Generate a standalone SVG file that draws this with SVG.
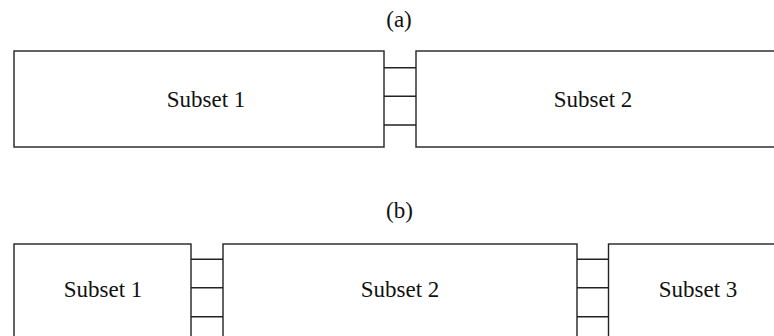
<svg xmlns="http://www.w3.org/2000/svg" width="774" height="336" viewBox="0 0 774 336">
  <style>
    .box { fill: #fff; stroke: #222; stroke-width: 1.4; }
    .link { stroke: #222; stroke-width: 1.4; fill: none; }
    .lbl { font-family: "Liberation Serif", "Times New Roman", serif; font-size: 23px; fill: #111; text-anchor: middle; }
  </style>
  <rect width="774" height="336" fill="#fff"/>

  <!-- (a) two subsets -->
  <text class="lbl" x="399" y="27">(a)</text>
  <g id="a-subset1">
    <rect class="box" x="14" y="51" width="370" height="96"/>
    <text class="lbl" x="206" y="107">Subset 1</text>
  </g>
  <g id="a-subset2">
    <rect class="box" x="416" y="51" width="400" height="96"/>
    <text class="lbl" x="593" y="107">Subset 2</text>
  </g>

  <!-- (b) three subsets -->
  <text class="lbl" x="399.5" y="217.5">(b)</text>
  <g id="b-subset1">
    <rect class="box" x="14" y="244" width="177" height="120"/>
    <text class="lbl" x="103" y="296.5">Subset 1</text>
  </g>
  <g id="b-subset2">
    <rect class="box" x="223" y="244" width="354" height="120"/>
    <text class="lbl" x="400" y="296.5">Subset 2</text>
  </g>
  <g id="b-subset3">
    <rect class="box" x="608.5" y="244" width="200" height="120"/>
    <text class="lbl" x="698" y="296.5">Subset 3</text>
  </g>

  <!-- links between adjacent subsets -->
  <g id="connectors">
    <path class="link" d="M384 67.7H416M384 96.3H416M384 125H416"/>
    <path class="link" d="M191 259.3H223M191 287.7H223M191 316.7H223"/>
    <path class="link" d="M577 259.3H608.5M577 287.7H608.5M577 316.7H608.5"/>
  </g>
</svg>
